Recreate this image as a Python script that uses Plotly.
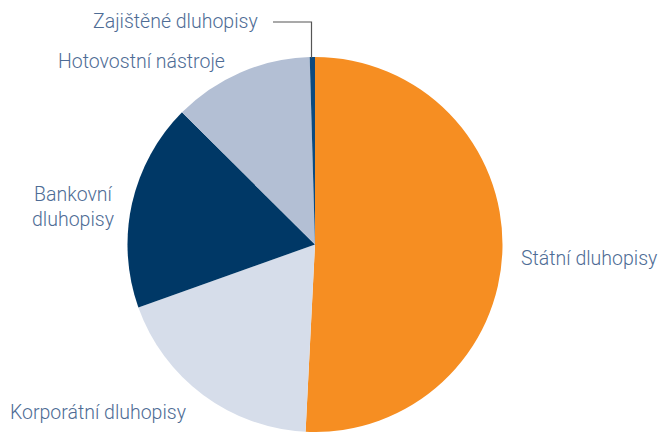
import plotly.graph_objects as go

labels = ["Státní dluhopisy", "Korporátní dluhopisy", "Bankovní dluhopisy",
          "Hotovostní nástroje", "Zajištěné dluhopisy"]
display = ["Státní dluhopisy", "Korporátní dluhopisy", "Bankovní<br>dluhopisy",
           "Hotovostní nástroje", "Zajištěné dluhopisy"]
values = [50.8, 18.75, 17.9, 12.1, 0.45]
colors = ["#F68E22", "#D6DDEA", "#003866", "#B3BFD4", "#0D4A7E"]

W, H = 659, 432
fig = go.Figure(go.Pie(
    labels=labels, values=values, sort=False, direction="clockwise",
    rotation=0, marker=dict(colors=colors, line=dict(width=0)),
    textinfo="none", hoverinfo="label+percent",
    domain=dict(x=[127 / W, 503 / W], y=[0, 375 / H]),
    showlegend=False,
))

# label placement (pixels from top-left)
pos = [(519, 258, "left"), (8, 412, "left"), (73, 207, "center"),
       (56, 62, "left"), (91, 21, "left")]
font = dict(family="Roboto, Liberation Sans, Arial, sans-serif", size=19.5,
            color="#4E6C95", weight=300)
for txt, (x, y, al) in zip(display, pos):
    fig.add_annotation(x=x / W, y=1 - y / H, xref="paper", yref="paper",
                       text=txt, showarrow=False, xanchor=al, yanchor="middle",
                       align="center", font=font)

# leader line for the small slice
fig.add_shape(type="path", xref="paper", yref="paper",
              path=f"M {273/W} {1-22/H} L {311.5/W} {1-22/H} L {311.5/W} {1-58/H}",
              line=dict(color="#555555", width=1.2))

fig.update_layout(width=W, height=H, margin=dict(l=0, r=0, t=0, b=0),
                  paper_bgcolor="white", plot_bgcolor="white")
fig.write_html("out.html", config={"displayModeBar": False},
               post_script="document.body.style.margin='0';")
